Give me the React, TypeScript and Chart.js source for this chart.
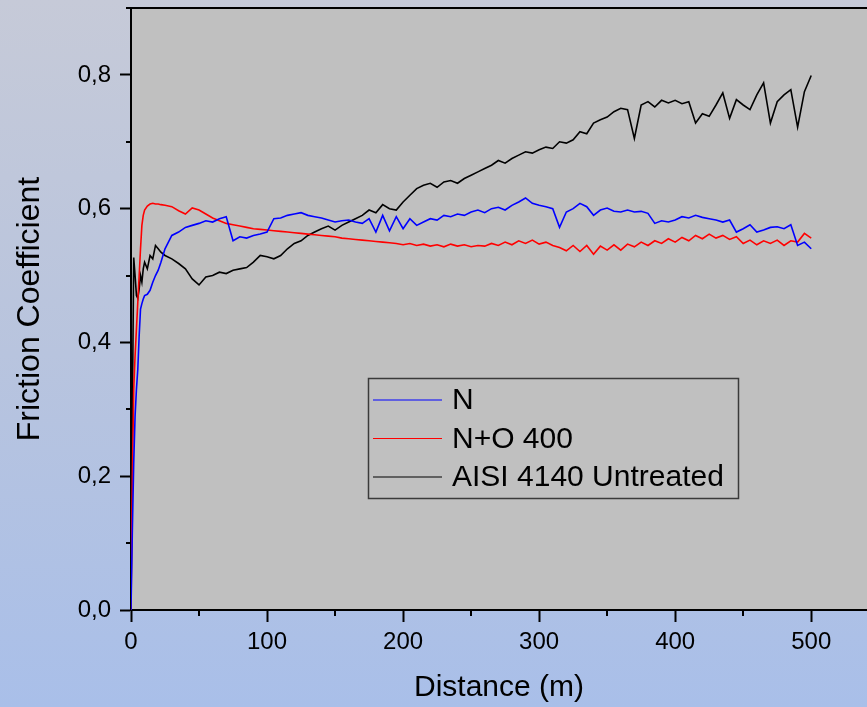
import React, { useEffect, useRef } from 'react';
import { Chart, registerables } from 'chart.js';

Chart.register(...registerables);

// Distance (m)
const distance = [
  0, 1, 2, 3, 4, 5, 6, 7, 8, 9, 10, 12, 14, 16, 18, 20, 22,
  25, 30, 35, 40, 45, 50, 55, 60, 65, 70,
  75, 80, 85, 90, 95, 100, 105, 110, 115, 120,
  125, 130, 135, 140, 145, 150, 155, 160, 165, 170,
  175, 180, 185, 190, 195, 200, 205, 210, 215, 220,
  225, 230, 235, 240, 245, 250, 255, 260, 265, 270,
  275, 280, 285, 290, 295, 300, 305, 310, 315, 320,
  325, 330, 335, 340, 345, 350, 355, 360, 365, 370,
  375, 380, 385, 390, 395, 400, 405, 410, 415, 420,
  425, 430, 435, 440, 445, 450, 455, 460, 465, 470,
  475, 480, 485, 490, 495, 500,
];

// Friction coefficient: N
const nValues = [
  0, 0.12, 0.22, 0.29, 0.33, 0.36, 0.41, 0.45, 0.458, 0.465, 0.47, 0.472, 0.478, 0.49, 0.5, 0.508, 0.52,
  0.54, 0.56, 0.565, 0.572, 0.575, 0.578, 0.582, 0.58, 0.585, 0.588,
  0.552, 0.558, 0.556, 0.56, 0.562, 0.565, 0.585, 0.586, 0.59, 0.592,
  0.594, 0.59, 0.588, 0.586, 0.583, 0.58, 0.582, 0.583, 0.58, 0.578,
  0.585, 0.565, 0.59, 0.567, 0.588, 0.57, 0.585, 0.575, 0.58, 0.585,
  0.583, 0.59, 0.588, 0.592, 0.59, 0.595, 0.598, 0.594, 0.6, 0.602,
  0.598, 0.605, 0.61, 0.616, 0.608, 0.605, 0.603, 0.6, 0.572, 0.595,
  0.6, 0.608, 0.603, 0.59, 0.598, 0.601, 0.596, 0.595, 0.598, 0.595,
  0.596, 0.593, 0.578, 0.582, 0.58, 0.583, 0.588, 0.586, 0.59, 0.587,
  0.585, 0.583, 0.58, 0.583, 0.565, 0.57, 0.576, 0.565, 0.568, 0.572,
  0.573, 0.57, 0.576, 0.545, 0.55, 0.54,
];

// Friction coefficient: N+O 400
const noValues = [
  0, 0.2, 0.33, 0.38, 0.42, 0.46, 0.5, 0.54, 0.575, 0.59, 0.598, 0.604, 0.607, 0.608, 0.607, 0.607, 0.606,
  0.605, 0.603, 0.597, 0.592, 0.601, 0.598, 0.592, 0.586, 0.582, 0.578,
  0.576, 0.574, 0.572, 0.57, 0.569, 0.568, 0.567, 0.566, 0.565, 0.564,
  0.563, 0.562, 0.561, 0.56, 0.559, 0.558, 0.556, 0.555, 0.554, 0.553,
  0.552, 0.551, 0.55, 0.549, 0.548, 0.546, 0.548, 0.545, 0.547, 0.544,
  0.546, 0.543, 0.547, 0.544, 0.546, 0.543, 0.545, 0.544, 0.548, 0.545,
  0.55, 0.546, 0.552, 0.548, 0.553, 0.547, 0.55, 0.545, 0.542, 0.537,
  0.545, 0.536, 0.545, 0.532, 0.544, 0.538, 0.546, 0.538, 0.547, 0.543,
  0.55, 0.545, 0.552, 0.548, 0.555, 0.55, 0.557, 0.552, 0.56, 0.555,
  0.562, 0.556, 0.56, 0.554, 0.558, 0.548, 0.553, 0.546, 0.552, 0.548,
  0.553, 0.545, 0.552, 0.55, 0.563, 0.556,
];

// Friction coefficient: AISI 4140 Untreated
const untreatedValues = [
  0, 0.3, 0.527, 0.5, 0.47, 0.466, 0.48, 0.5, 0.49, 0.51, 0.52, 0.51, 0.53, 0.525, 0.545, 0.54, 0.535,
  0.53, 0.525, 0.518, 0.51, 0.495, 0.486, 0.498, 0.5, 0.505, 0.503,
  0.508, 0.51, 0.512, 0.52, 0.53, 0.528, 0.525, 0.53, 0.54, 0.548,
  0.552, 0.56, 0.565, 0.57, 0.574, 0.568, 0.575, 0.58, 0.585, 0.59,
  0.598, 0.594, 0.606, 0.6, 0.598, 0.61, 0.62, 0.63, 0.635, 0.638,
  0.632, 0.64, 0.642, 0.638, 0.645, 0.65, 0.655, 0.66, 0.665, 0.672,
  0.668, 0.675, 0.68, 0.685, 0.683, 0.688, 0.692, 0.69, 0.7, 0.698,
  0.703, 0.715, 0.712, 0.728, 0.733, 0.737, 0.745, 0.75, 0.748, 0.705,
  0.755, 0.76, 0.752, 0.762, 0.758, 0.762, 0.757, 0.76, 0.728, 0.742,
  0.738, 0.755, 0.773, 0.735, 0.763, 0.755, 0.748, 0.77, 0.788, 0.728,
  0.76, 0.77, 0.778, 0.722, 0.775, 0.799,
];

const seriesLabels = ['N', 'N+O 400', 'AISI 4140 Untreated'];
const seriesColors = ['#0000ff', '#ff0000', '#000000'];

const yMinorTicks = [0.1, 0.3, 0.5, 0.7, 0.9];
const xMinorTicks = [50, 150, 250, 350, 450];

const FONT = "'Liberation Sans', Arial, Helvetica, sans-serif";

const framePlugin = {
  id: 'frame',
  beforeDraw(chart: any) {
    const { ctx, chartArea } = chart;
    ctx.save();
    ctx.fillStyle = '#c0c0c0';
    ctx.fillRect(chartArea.left, chartArea.top, chartArea.right - chartArea.left, chartArea.bottom - chartArea.top);
    ctx.restore();
  },
  afterDraw(chart: any) {
    const { ctx, chartArea, scales } = chart;
    ctx.save();
    ctx.strokeStyle = '#000';
    ctx.lineWidth = 2;
    // top frame line
    ctx.beginPath();
    ctx.moveTo(chartArea.left, chartArea.top);
    ctx.lineTo(chartArea.right, chartArea.top);
    ctx.stroke();
    // minor ticks
    ctx.beginPath();
    yMinorTicks.forEach((v) => {
      const y = Math.round(scales.y.getPixelForValue(v));
      ctx.moveTo(chartArea.left - 5, y);
      ctx.lineTo(chartArea.left, y);
    });
    xMinorTicks.forEach((v) => {
      const x = Math.round(scales.x.getPixelForValue(v));
      ctx.moveTo(x, chartArea.bottom);
      ctx.lineTo(x, chartArea.bottom + 6);
    });
    ctx.stroke();

    // legend
    const bx = 368.5, by = 378.5, bw = 370, bh = 120;
    ctx.strokeStyle = '#3a3a3a';
    ctx.lineWidth = 1.5;
    ctx.strokeRect(bx, by, bw, bh);
    const rows = [400, 438.5, 477];
    ctx.font = `30px ${FONT}`;
    ctx.textBaseline = 'middle';
    ctx.textAlign = 'left';
    chart.data.datasets.forEach((ds: any, i: number) => {
      const y = rows[i];
      ctx.strokeStyle = ds.borderColor;
      ctx.lineWidth = 1.2;
      ctx.beginPath();
      ctx.moveTo(373, y);
      ctx.lineTo(442, y);
      ctx.stroke();
      ctx.fillStyle = '#000';
      ctx.fillText(ds.label, 452, y + 1);
    });
    ctx.restore();
  },
};

export default function App() {
  const ref = useRef<HTMLCanvasElement>(null);

  useEffect(() => {
    if (!ref.current) return;
    const series = [nValues, noValues, untreatedValues];
    const chart = new Chart(ref.current, {
      type: 'line',
      data: {
        datasets: series.map((vals, i) => ({
          label: seriesLabels[i],
          data: distance.map((d, j) => ({ x: d, y: vals[j] })),
          borderColor: seriesColors[i],
          backgroundColor: seriesColors[i],
          borderWidth: 1.6,
          pointRadius: 0,
          tension: 0,
          fill: false,
        })),
      },
      options: {
        animation: false,
        responsive: true,
        maintainAspectRatio: false,
        layout: { padding: { top: 8, left: 0, right: 0, bottom: 0 } },
        plugins: {
          legend: { display: false },
          tooltip: { enabled: false },
        },
        scales: {
          x: {
            type: 'linear',
            min: 0,
            max: 541,
            afterFit: (s: any) => {
              s.height = 97;
              s.paddingLeft = 0;
              s.paddingRight = 0;
            },
            ticks: {
              stepSize: 100,
              includeBounds: false,
              padding: 6,
              color: '#000',
              font: { size: 24, family: FONT },
              maxRotation: 0,
              autoSkip: false,
            },
            grid: {
              drawOnChartArea: false,
              drawTicks: true,
              tickLength: 12,
              tickWidth: 2,
              tickColor: '#000',
            },
            border: { display: true, color: '#000', width: 2 },
            title: {
              display: true,
              text: 'Distance (m)',
              color: '#000',
              font: { size: 30, family: FONT },
              padding: { top: 0, bottom: 1 },
            },
          },
          y: {
            type: 'linear',
            min: 0,
            max: 0.9,
            afterFit: (s: any) => {
              s.width = 131;
              s.paddingTop = 0;
              s.paddingBottom = 0;
            },
            ticks: {
              stepSize: 0.2,
              includeBounds: false,
              padding: 9,
              color: '#000',
              font: { size: 24, family: FONT },
              callback: (v: any) => Number(v).toFixed(1).replace('.', ','),
            },
            grid: {
              drawOnChartArea: false,
              drawTicks: true,
              tickLength: 11,
              tickWidth: 2,
              tickColor: '#000',
            },
            border: { display: true, color: '#000', width: 2 },
            title: {
              display: true,
              text: 'Friction Coefficient',
              color: '#000',
              font: { size: 32, family: FONT },
              padding: { top: 11, bottom: 0 },
            },
          },
        },
      },
      plugins: [framePlugin],
    });
    return () => chart.destroy();
  }, []);

  return (
    <div
      style={{
        position: 'fixed',
        left: 0,
        top: 0,
        width: 867,
        height: 707,
        background: 'linear-gradient(to bottom, #c6cad8 0%, #b8c4de 50%, #a9bfe9 100%)',
      }}
    >
      <canvas ref={ref} width={867} height={707} />
    </div>
  );
}
